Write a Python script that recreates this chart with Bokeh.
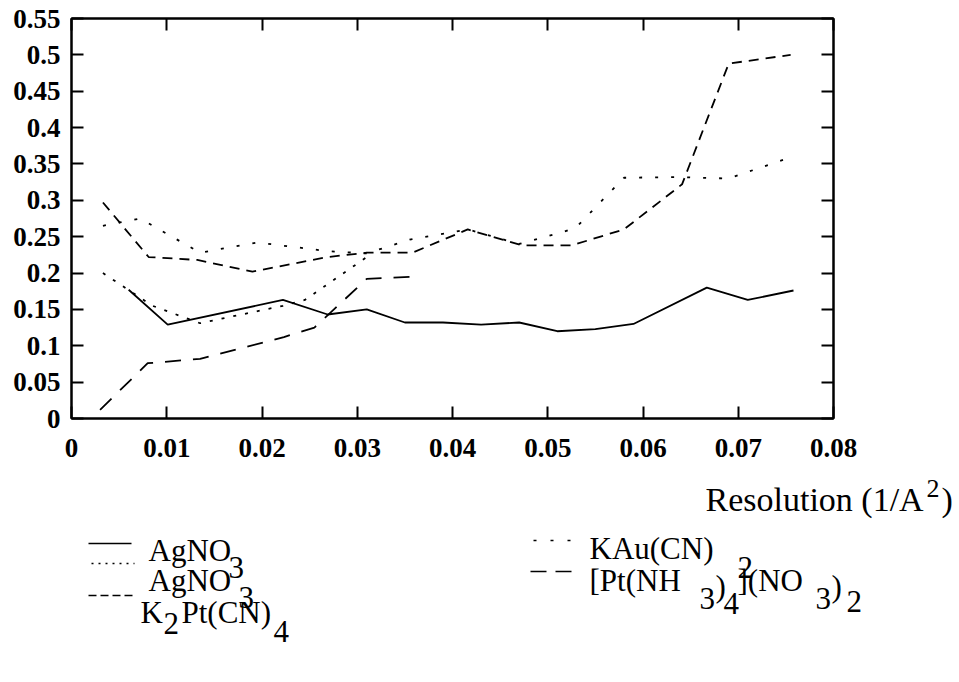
from bokeh.plotting import figure
from bokeh.models import Range1d, FixedTicker, LinearAxis, CustomJSTickFormatter, Label
from bokeh.layouts import column
from bokeh.embed import file_html
from bokeh.resources import INLINE

# ---------------- data ----------------
x_ticks = [0.0, 0.01, 0.02, 0.03, 0.04, 0.05, 0.06, 0.07, 0.08]
y_ticks = [0.0, 0.05, 0.1, 0.15, 0.2, 0.25, 0.3, 0.35, 0.4, 0.45, 0.5, 0.55]
x_title = "Resolution (1/A"
x_title_sup = "2"

agno3_a_x = [0.0060, 0.0101, 0.0222, 0.0269, 0.0310, 0.0350, 0.0390, 0.0430,
             0.0470, 0.0510, 0.0550, 0.0590, 0.0667, 0.0710, 0.0758]
agno3_a_y = [0.177, 0.129, 0.163, 0.143, 0.150, 0.132, 0.132, 0.129,
             0.132, 0.120, 0.123, 0.130, 0.180, 0.163, 0.176]

agno3_b_x = [0.0033, 0.0085, 0.0135, 0.0222, 0.0245, 0.0310]
agno3_b_y = [0.200, 0.155, 0.131, 0.155, 0.163, 0.222]

k2pt_x = [0.0033, 0.0081, 0.0132, 0.0190, 0.0269, 0.0310, 0.0358, 0.0416,
          0.0473, 0.0525, 0.0580, 0.0641, 0.0690, 0.0755]
k2pt_y = [0.297, 0.222, 0.218, 0.202, 0.222, 0.228, 0.228, 0.260,
          0.238, 0.238, 0.260, 0.322, 0.488, 0.500]

kau_x = [0.0033, 0.0072, 0.0135, 0.0195, 0.0270, 0.0310, 0.0355, 0.0416,
         0.0470, 0.0515, 0.0530, 0.0580, 0.0635, 0.0690, 0.0750]
kau_y = [0.265, 0.275, 0.228, 0.242, 0.230, 0.227, 0.246, 0.260,
         0.240, 0.256, 0.263, 0.331, 0.332, 0.330, 0.357]

ptnh3_x = [0.0030, 0.0080, 0.0135, 0.0223, 0.0255, 0.0310, 0.0360]
ptnh3_y = [0.012, 0.076, 0.082, 0.112, 0.125, 0.192, 0.195]

# ---------------- style ----------------
FONT = "Liberation Serif"
W, H_MAIN, H_LEG = 959, 470, 212
BL, BR = 71, 126

p = figure(width=W, height=H_MAIN, x_range=Range1d(0, 0.08), y_range=Range1d(0, 0.55),
           output_backend="svg", toolbar_location=None,
           x_axis_type=None, y_axis_type=None,
           min_border_left=BL, min_border_right=BR, min_border_top=18, min_border_bottom=52)
p.frame_align = False
p.outline_line_color = "black"
p.outline_line_width = 2
p.background_fill_color = "white"
p.border_fill_color = "white"

fmt = CustomJSTickFormatter(code="return String(parseFloat(tick.toFixed(3)));")
blank = CustomJSTickFormatter(code="return '';")


def make_axis(ticks, formatter, show):
    ax = LinearAxis(ticker=FixedTicker(ticks=ticks), formatter=formatter)
    ax.axis_line_color = "black"
    ax.axis_line_width = 2
    ax.major_tick_in = 12
    ax.major_tick_out = 0
    ax.major_tick_line_width = 2
    ax.minor_tick_line_color = None
    ax.major_label_text_font = FONT
    ax.major_label_text_font_style = "bold"
    ax.major_label_text_font_size = "27px" if show else "0px"
    ax.major_label_text_color = "black"
    return ax


left = make_axis(y_ticks, fmt, True)
left.major_label_standoff = 11
p.add_layout(left, "left")
bottom = make_axis(x_ticks, fmt, True)
bottom.major_label_standoff = 20
p.add_layout(bottom, "below")
p.add_layout(make_axis(y_ticks, blank, False), "right")
p.add_layout(make_axis(x_ticks, blank, False), "above")

LW = 1.8
p.line(agno3_a_x, agno3_a_y, line_color="black", line_width=LW)
p.line(agno3_b_x, agno3_b_y, line_color="black", line_width=LW, line_dash="3 9")
p.line(k2pt_x, k2pt_y, line_color="black", line_width=LW, line_dash="10 7")
p.line(kau_x, kau_y, line_color="black", line_width=LW, line_dash="3 13")
p.line(ptnh3_x, ptnh3_y, line_color="black", line_width=LW, line_dash="16 12")

# ---------------- lower panel: axis title + legend ----------------
# full-width frame; data units == page pixels
lg = figure(width=W, height=H_LEG, x_range=Range1d(0, W), y_range=Range1d(682, 470),
            output_backend="svg", toolbar_location=None,
            x_axis_type=None, y_axis_type=None,
            min_border_left=0, min_border_right=0, min_border_top=0, min_border_bottom=0)
lg.frame_align = False
lg.outline_line_color = None
lg.background_fill_color = "white"
lg.border_fill_color = "white"
lg.grid.visible = False


def put(x, y, t, size="31px"):
    lg.add_layout(Label(x=x, y=y, text=t, text_font=FONT, text_font_size=size,
                        text_baseline="middle", text_align="left", text_color="black"))


# axis title
put(705, 499, x_title, "34px")
put(926, 488, x_title_sup, "26px")
put(941, 499, ")", "34px")

# legend samples
lg.line([88, 131], [543, 543], line_color="black", line_width=1.5)
lg.line([91, 134], [563, 563], line_color="black", line_width=1.5, line_dash="2 5")
lg.line([88, 133], [595, 595], line_color="black", line_width=1.5, line_dash="8 4")
lg.line([533, 572], [540, 540], line_color="black", line_width=1.5, line_dash="3 14")
lg.line([530, 575], [571, 571], line_color="black", line_width=1.5, line_dash="16 9")

# legend texts (left column)
put(148, 550, "AgNO"); put(228, 567, "3")
put(148, 580, "AgNO"); put(238, 597, "3")
put(140, 612, "K"); put(163, 623, "2"); put(181, 612, "Pt(CN)"); put(273, 631, "4")
# legend texts (right column)
put(589, 548, "KAu(CN)"); put(737, 567, "2")
put(589, 580, "[Pt(NH"); put(699, 598, "3"); put(715, 586, ")"); put(723, 603, "4")
put(737, 580, "](NO"); put(815, 598, "3"); put(831, 586, ")"); put(846, 601, "2")

layout = column(p, lg)
open("out.html", "w").write(file_html(layout, INLINE))
